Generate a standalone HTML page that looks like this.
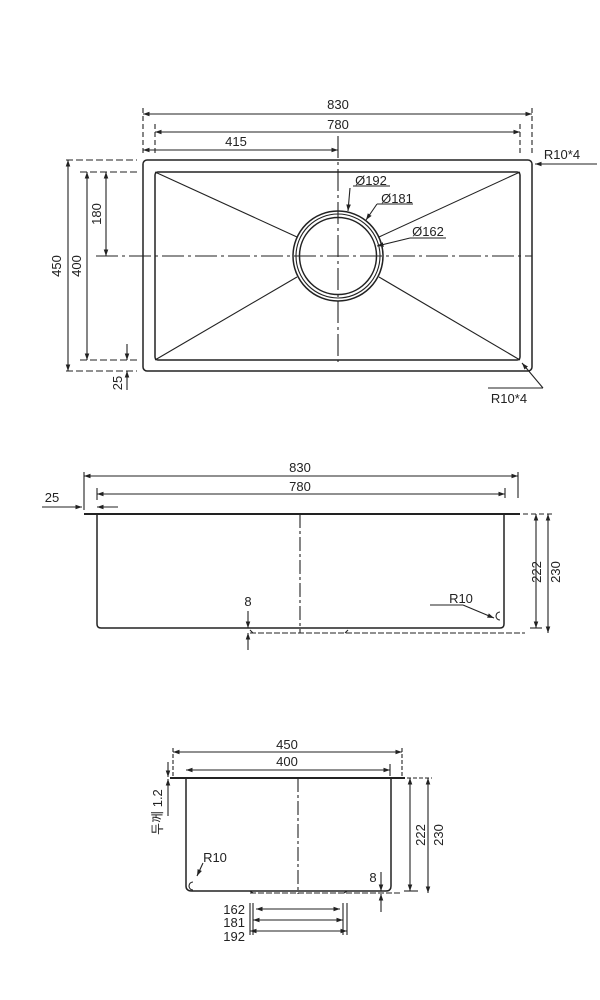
<!DOCTYPE html>
<html><head><meta charset="utf-8"><style>
html,body{margin:0;padding:0;background:#fff;}
svg{display:block;}
text{font-family:"Liberation Sans","Noto Sans CJK KR",sans-serif;font-size:13px;fill:#222;}
</style></head><body>
<svg width="600" height="1000" viewBox="0 0 600 1000" xmlns="http://www.w3.org/2000/svg">
<defs>
<marker id="a" viewBox="0 0 10 10" refX="10" refY="5" markerWidth="6" markerHeight="6" orient="auto-start-reverse"><path d="M0,1.5L10,5L0,8.5z" fill="#222"/></marker>
</defs>
<g stroke="#222" fill="none" stroke-width="1.1">
<!-- TOP VIEW -->
<rect x="143" y="160" width="389" height="211" rx="4" stroke-width="1.5"/>
<rect x="155" y="172" width="365" height="188" rx="3" stroke-width="1.5"/>
<line x1="155" y1="172" x2="297" y2="237"/>
<line x1="520" y1="172" x2="379" y2="237"/>
<line x1="155" y1="360" x2="297" y2="277"/>
<line x1="520" y1="360" x2="379" y2="277"/>
<circle cx="338" cy="256" r="45" stroke-width="1.5"/>
<circle cx="338" cy="256" r="42"/>
<circle cx="338" cy="256" r="38.5" stroke-width="1.5"/>
<line x1="96" y1="256" x2="532" y2="256" stroke-dasharray="22,4,3,4"/>
<line x1="338" y1="136" x2="338" y2="362" stroke-dasharray="22,4,3,4"/>
<line x1="143" y1="114" x2="532" y2="114" marker-start="url(#a)" marker-end="url(#a)"/>
<line x1="155" y1="132" x2="520" y2="132" marker-start="url(#a)" marker-end="url(#a)"/>
<line x1="143" y1="150" x2="338" y2="150" marker-start="url(#a)" marker-end="url(#a)"/>
<line x1="143" y1="108" x2="143" y2="156" stroke-dasharray="5,3"/>
<line x1="532" y1="108" x2="532" y2="156" stroke-dasharray="5,3"/>
<line x1="155" y1="124" x2="155" y2="156" stroke-dasharray="5,3"/>
<line x1="520" y1="124" x2="520" y2="156" stroke-dasharray="5,3"/>
<line x1="68" y1="160" x2="68" y2="371" marker-start="url(#a)" marker-end="url(#a)"/>
<line x1="87" y1="172" x2="87" y2="360" marker-start="url(#a)" marker-end="url(#a)"/>
<line x1="106" y1="172" x2="106" y2="256" marker-start="url(#a)" marker-end="url(#a)"/>
<line x1="66" y1="160" x2="137" y2="160" stroke-dasharray="7,3"/>
<line x1="80" y1="172" x2="137" y2="172" stroke-dasharray="7,3"/>
<line x1="80" y1="360" x2="137" y2="360" stroke-dasharray="7,3"/>
<line x1="66" y1="371" x2="137" y2="371" stroke-dasharray="7,3"/>
<line x1="127" y1="344" x2="127" y2="360" marker-end="url(#a)"/>
<line x1="127" y1="390" x2="127" y2="371" marker-end="url(#a)"/>
<line x1="597" y1="164" x2="535" y2="164" marker-end="url(#a)"/>
<line x1="488" y1="388" x2="543" y2="388"/>
<line x1="543" y1="388" x2="522" y2="363" marker-end="url(#a)"/>

<!-- FRONT VIEW -->
<line x1="84" y1="476" x2="518" y2="476" marker-start="url(#a)" marker-end="url(#a)"/>
<line x1="97" y1="494" x2="505" y2="494" marker-start="url(#a)" marker-end="url(#a)"/>
<line x1="84" y1="472" x2="84" y2="510"/>
<line x1="518" y1="472" x2="518" y2="498"/>
<line x1="97" y1="488" x2="97" y2="500"/>
<line x1="505" y1="488" x2="505" y2="498"/>
<line x1="42" y1="507" x2="82" y2="507" marker-end="url(#a)"/>
<line x1="118" y1="507" x2="97" y2="507" marker-end="url(#a)"/>
<line x1="84" y1="514" x2="520" y2="514" stroke-width="2"/>
<path d="M97,514 V624 Q97,628 101,628 H500 Q504,628 504,624 V514" stroke-width="1.5"/>
<line x1="300" y1="514" x2="300" y2="633" stroke-dasharray="14,3,3,3"/>
<path d="M250,633 H525" stroke-dasharray="6,2"/>
<path d="M250,630 L253,633 M345,633 L348,630"/>
<line x1="536" y1="514" x2="536" y2="628" marker-start="url(#a)" marker-end="url(#a)"/>
<line x1="548" y1="514" x2="548" y2="633" marker-start="url(#a)" marker-end="url(#a)"/>
<line x1="507" y1="514" x2="553" y2="514" stroke-dasharray="5,3"/>
<line x1="530" y1="628" x2="542" y2="628"/>
<line x1="248" y1="611" x2="248" y2="628" marker-end="url(#a)"/>
<line x1="248" y1="650" x2="248" y2="633" marker-end="url(#a)"/>
<line x1="430" y1="605" x2="463" y2="605"/>
<line x1="463" y1="605" x2="494" y2="618" marker-end="url(#a)"/>
<path d="M500,612 A4,4 0 1 0 500,620"/>

<!-- SIDE VIEW -->
<line x1="173" y1="752" x2="402" y2="752" marker-start="url(#a)" marker-end="url(#a)"/>
<line x1="186" y1="770" x2="390" y2="770" marker-start="url(#a)" marker-end="url(#a)"/>
<line x1="173" y1="748" x2="173" y2="776" stroke-dasharray="4,2"/>
<line x1="402" y1="748" x2="402" y2="776" stroke-dasharray="4,2"/>
<line x1="390" y1="764" x2="390" y2="776"/>
<line x1="170" y1="778" x2="405" y2="778" stroke-width="2"/>
<path d="M186,778 V886 Q186,891 192,891 H386 Q391,891 391,886 V778" stroke-width="1.5"/>
<line x1="298" y1="778" x2="298" y2="894" stroke-dasharray="14,3,3,3"/>
<path d="M250,893 H400" stroke-dasharray="6,2"/>
<path d="M250,891 L253,893 M344,893 L347,891"/>
<line x1="410" y1="778" x2="410" y2="891" marker-start="url(#a)" marker-end="url(#a)"/>
<line x1="428" y1="778" x2="428" y2="893" marker-start="url(#a)" marker-end="url(#a)"/>
<line x1="407" y1="778" x2="432" y2="778" stroke-dasharray="4,2"/>
<line x1="404" y1="891" x2="418" y2="891"/>
<line x1="168" y1="762" x2="168" y2="777" marker-end="url(#a)"/>
<line x1="168" y1="816" x2="168" y2="779" marker-end="url(#a)"/>
<line x1="203" y1="863" x2="197" y2="876" marker-end="url(#a)"/>
<path d="M193,882 A4,4 0 1 0 193,890"/>
<line x1="381" y1="872" x2="381" y2="891" marker-end="url(#a)"/>
<line x1="381" y1="912" x2="381" y2="894" marker-end="url(#a)"/>
<line x1="250" y1="903" x2="250" y2="935"/>
<line x1="253" y1="903" x2="253" y2="935"/>
<line x1="343" y1="903" x2="343" y2="935"/>
<line x1="347" y1="903" x2="347" y2="935"/>
<line x1="256" y1="909" x2="340" y2="909" marker-start="url(#a)" marker-end="url(#a)"/>
<line x1="253" y1="920" x2="343" y2="920" marker-start="url(#a)" marker-end="url(#a)"/>
<line x1="250" y1="931" x2="347" y2="931" marker-start="url(#a)" marker-end="url(#a)"/>
<line x1="353" y1="186" x2="390" y2="186"/>
<line x1="377" y1="204" x2="413" y2="204"/>
<line x1="410" y1="238" x2="446" y2="238"/>
<line x1="350" y1="188" x2="348" y2="211" marker-end="url(#a)"/>
<line x1="377" y1="204" x2="366" y2="220" marker-end="url(#a)"/>
<line x1="410" y1="238" x2="377" y2="246" marker-end="url(#a)"/>
</g>
<g text-anchor="middle">
<text x="338" y="109">830</text>
<text x="338" y="129">780</text>
<text x="236" y="146">415</text>
<text x="371" y="185">Ø192</text>
<text x="397" y="203">Ø181</text>
<text x="428" y="236">Ø162</text>
<text x="61" y="266" transform="rotate(-90 61 266)">450</text>
<text x="81" y="266" transform="rotate(-90 81 266)">400</text>
<text x="101" y="214" transform="rotate(-90 101 214)">180</text>
<text x="122" y="383" transform="rotate(-90 122 383)">25</text>
<text x="562" y="159">R10*4</text>
<text x="509" y="403">R10*4</text>
<text x="300" y="472">830</text>
<text x="300" y="491">780</text>
<text x="52" y="502">25</text>
<text x="248" y="606">8</text>
<text x="461" y="603">R10</text>
<text x="541" y="572" transform="rotate(-90 541 572)">222</text>
<text x="560" y="572" transform="rotate(-90 560 572)">230</text>
<text x="287" y="749">450</text>
<text x="287" y="766">400</text>
<text x="162" y="812" transform="rotate(-90 162 812)">두께 1.2</text>
<text x="215" y="862">R10</text>
<text x="373" y="882">8</text>
<text x="425" y="835" transform="rotate(-90 425 835)">222</text>
<text x="443" y="835" transform="rotate(-90 443 835)">230</text>
</g>
<g text-anchor="end">
<text x="245" y="914">162</text>
<text x="245" y="927">181</text>
<text x="245" y="941">192</text>
</g>
</svg>
</body></html>
